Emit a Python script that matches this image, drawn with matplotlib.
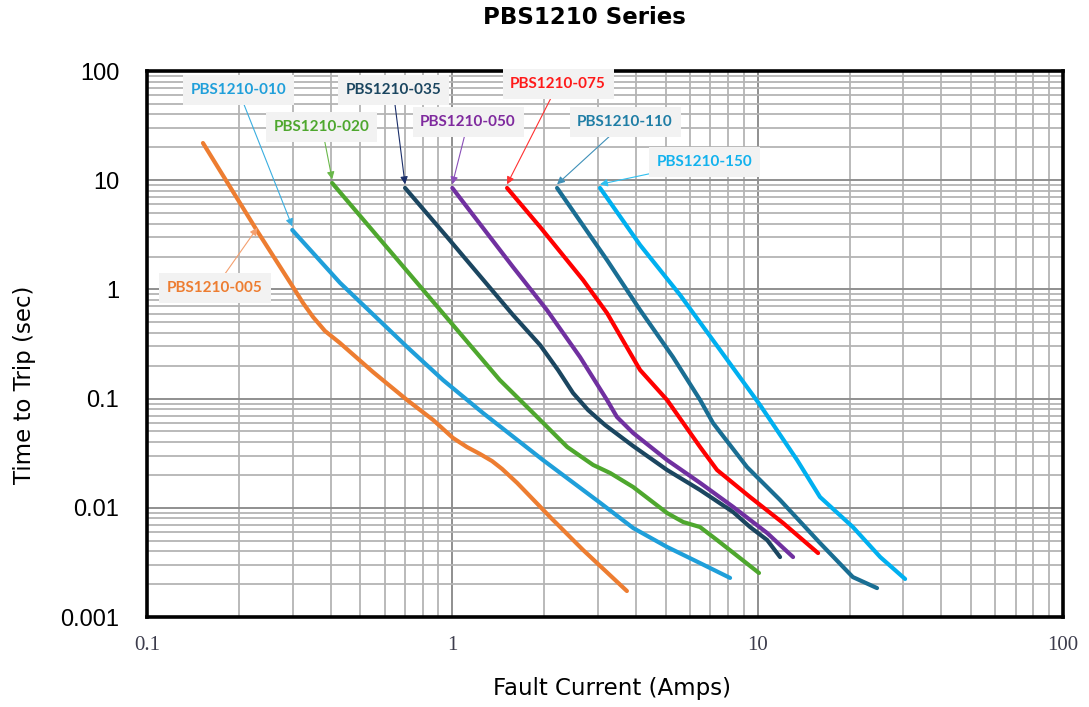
import matplotlib
matplotlib.use("Agg")
import matplotlib.pyplot as plt
from matplotlib.ticker import FixedLocator, FixedFormatter, LogLocator, NullFormatter

# ---------------- data ----------------
x_ticks = [0.1, 1, 10, 100]
x_tick_labels = ["0.1", "1", "10", "100"]
y_ticks = [0.001, 0.01, 0.1, 1, 10, 100]
y_tick_labels = ["0.001", "0.01", "0.1", "1", "10", "100"]

current_005 = [0.1525, 0.23, 0.3007, 0.3243, 0.3498, 0.3828, 0.4285, 0.5498, 0.7108, 0.8652, 1.005, 1.117,
               1.232, 1.349, 1.455, 1.63, 2.09, 2.68, 3.73]
time_005 = [21.9, 3.4, 1.052, 0.751, 0.559, 0.416, 0.323, 0.1752, 0.0971, 0.0637, 0.0436, 0.0360,
            0.0311, 0.0268, 0.0227, 0.0169, 0.00824, 0.00411, 0.00173]

current_010 = [0.299, 0.429, 0.711, 0.932, 1.26, 1.98, 3.05, 3.91, 5.05, 6.47, 8.12]
time_010 = [3.50, 1.146, 0.297, 0.148, 0.0738, 0.0274, 0.0111, 0.00653, 0.00438, 0.00312, 0.00228]

current_020 = [0.404, 1.43, 1.84, 2.38, 2.89, 3.29, 3.91, 5.05, 5.70, 6.47, 7.36, 10.1]
time_020 = [9.42, 0.148, 0.0738, 0.036, 0.0247, 0.0208, 0.0155, 0.00896, 0.00741, 0.00667, 0.00507, 0.00253]

current_035 = [0.70, 0.961, 1.232, 1.58, 1.938, 2.219, 2.485, 2.783, 3.164, 3.908, 5.05, 6.475, 8.31, 9.44,
               10.74, 11.84]
time_035 = [8.5, 3.02, 1.327, 0.583, 0.3096, 0.1827, 0.1125, 0.0786, 0.0573, 0.0368, 0.0222, 0.01456,
            0.00915, 0.00667, 0.00507, 0.00354]

current_050 = [1.0, 1.58, 2.04, 2.62, 3.21, 3.46, 3.91, 5.05, 6.48, 8.31, 10.74, 13.06]
time_050 = [8.49, 1.604, 0.648, 0.240, 0.0971, 0.0679, 0.0484, 0.0274, 0.0169, 0.0102, 0.00588, 0.00354]

current_075 = [1.511, 1.938, 2.68, 3.21, 4.12, 5.05, 6.48, 7.36, 9.44, 12.11, 15.77]
time_075 = [8.49, 3.73, 1.219, 0.608, 0.1827, 0.0971, 0.036, 0.0222, 0.01256, 0.00726, 0.00385]

current_110 = [2.203, 3.21, 4.12, 5.28, 6.48, 7.14, 9.23, 11.84, 16.0, 20.5, 24.6]
time_110 = [8.49, 1.859, 0.648, 0.240, 0.0971, 0.0598, 0.0236, 0.01179, 0.00476, 0.00232, 0.00184]

current_150 = [3.046, 4.12, 5.57, 7.53, 10.18, 13.46, 16.0, 20.5, 25.2, 30.4]
time_150 = [8.49, 2.55, 0.889, 0.279, 0.0874, 0.0274, 0.01256, 0.00667, 0.00354, 0.00223]

series_names = ["PBS1210-005", "PBS1210-010", "PBS1210-020", "PBS1210-035",
                "PBS1210-050", "PBS1210-075", "PBS1210-110", "PBS1210-150"]

# ---------------- style ----------------
line_colors = ["#ed7d31", "#1f9fda", "#4ea72e", "#1b4660", "#7030a0", "#ff0000", "#1a6e93", "#00b0f0"]
text_colors = ["#ed7d31", "#1f9fda", "#4ea72e", "#1b4660", "#7f2a9e", "#ff1a1a", "#1f7ea6", "#12b2ee"]
arrow_colors = ["#f4a070", "#3aaee0", "#6ab84a", "#1b2f6a", "#8a50b8", "#ff3030", "#3f90b8", "#30c0f0"]
# label centre positions (data coords) and arrow target index
label_pos = [(0.167, 1.03), (0.199, 67), (0.374, 30.7), (0.64, 67),
             (1.126, 34.1), (2.22, 76), (3.68, 34.1), (6.72, 14.7)]
arrow_idx = [1, 0, 0, 0, 0, 0, 0, 0]

currents = [current_005, current_010, current_020, current_035, current_050, current_075, current_110, current_150]
times = [time_005, time_010, time_020, time_035, time_050, time_075, time_110, time_150]

fig = plt.figure(figsize=(10.89, 7.07), dpi=100)
ax = fig.add_axes([147 / 1089, 1 - 617 / 707, (1063 - 147) / 1089, (617 - 71) / 707])
ax.set_xscale("log")
ax.set_yscale("log")
ax.set_xlim(0.1, 100)
ax.set_ylim(0.001, 100)

ax.xaxis.set_major_locator(FixedLocator(x_ticks))
ax.xaxis.set_major_formatter(FixedFormatter(x_tick_labels))
ax.yaxis.set_major_locator(FixedLocator(y_ticks))
ax.yaxis.set_major_formatter(FixedFormatter(y_tick_labels))
ax.xaxis.set_minor_locator(LogLocator(base=10, subs=range(2, 10), numticks=20))
ax.yaxis.set_minor_locator(LogLocator(base=10, subs=range(2, 10), numticks=20))
ax.xaxis.set_minor_formatter(NullFormatter())
ax.yaxis.set_minor_formatter(NullFormatter())
ax.tick_params(which="both", length=0)
ax.tick_params(axis="y", pad=20)
ax.tick_params(axis="x", pad=14)
for lbl in ax.get_yticklabels():
    lbl.set_fontfamily("Liberation Sans")
    lbl.set_fontsize(17)
    lbl.set_color("black")
for lbl in ax.get_xticklabels():
    lbl.set_fontfamily("Liberation Serif")
    lbl.set_fontsize(15)
    lbl.set_color("#3c3c4c")

ax.grid(which="major", color="#8f8f8f", lw=1.4)
ax.grid(which="minor", color="#b4b4b4", lw=1.3)
ax.set_axisbelow(True)
for sp in ax.spines.values():
    sp.set_linewidth(2.6)
    sp.set_color("black")
    sp.set_zorder(4)

for xs, ys, c in zip(currents, times, line_colors):
    ax.plot(xs, ys, color=c, lw=3.0, solid_capstyle="round", solid_joinstyle="round", zorder=3)

for i, name in enumerate(series_names):
    xs, ys = currents[i], times[i]
    k = arrow_idx[i]
    ax.annotate(name, xy=(xs[k], ys[k] * 1.08), xytext=label_pos[i], textcoords="data",
                ha="center", va="center", fontsize=11, fontweight="bold",
                family="Lato", color=text_colors[i],
                bbox=dict(boxstyle="square,pad=0.5", fc="#f2f2f2", ec="none"),
                arrowprops=dict(arrowstyle="-|>", color=arrow_colors[i], lw=0.8,
                                shrinkA=0, shrinkB=0, mutation_scale=11),
                annotation_clip=False, zorder=6)

fig.text(584 / 1089, 1 - 18 / 707, "PBS1210 Series", ha="center", va="center",
         fontsize=16.5, fontweight="bold", family="DejaVu Sans")
fig.text(612 / 1089, 1 - 688 / 707, "Fault Current (Amps)", ha="center", va="center",
         fontsize=16.5, family="DejaVu Sans")
fig.text(25 / 1089, 1 - 385 / 707, "Time to Trip (sec)", ha="center", va="center",
         rotation=90, fontsize=16.5, family="DejaVu Sans")

fig.savefig("out.png", dpi=100, facecolor="white")
